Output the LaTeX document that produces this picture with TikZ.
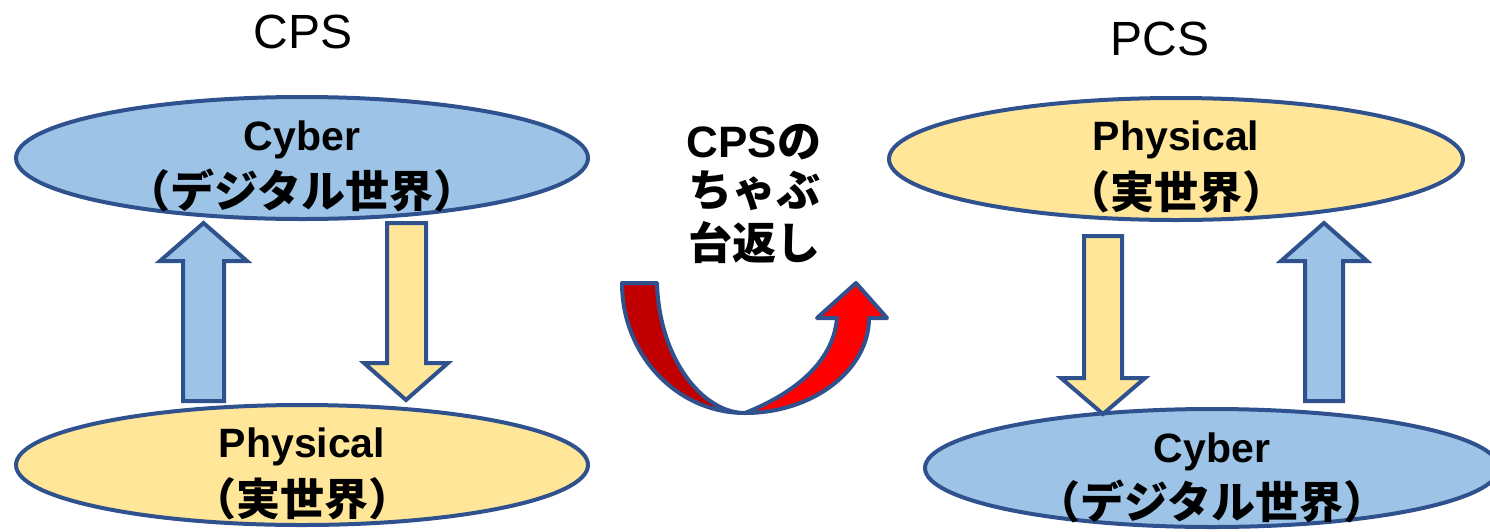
\documentclass[tikz,border=0pt]{standalone}
\usepackage{fontspec}
\setmainfont{Liberation Sans}
\newfontfamily\jp{Noto Sans CJK JP}
\usetikzlibrary{shapes.geometric}
\definecolor{edge}{HTML}{2F528F}
\definecolor{cyberfill}{HTML}{9DC3E6}
\definecolor{physfill}{HTML}{FFE699}
\definecolor{darkred}{HTML}{C00000}
\definecolor{brightred}{HTML}{FF0000}
\begin{document}
\begin{tikzpicture}[x=1pt,y=-1pt,
  world/.style={ellipse, draw=edge, line width=4pt, inner sep=0pt, minimum width=572pt, minimum height=122pt},
  cyber/.style={world, fill=cyberfill},
  phys/.style={world, fill=physfill},
  lbl/.style={anchor=base, inner sep=0pt, font=\bfseries\fontsize{41}{49}\selectfont},
  jlbl/.style={anchor=base, inner sep=0pt, font=\jp\bfseries\fontsize{44}{52}\selectfont},
  ttl/.style={anchor=base, inner sep=0pt, font=\fontsize{48}{56}\selectfont},
  mid/.style={anchor=base, inner sep=0pt, font=\bfseries\fontsize{44}{52}\selectfont},
  blk/.style={draw=edge, line width=4pt, line join=miter},
  turn/.style={draw=edge, line width=4pt, line join=round},
]
\useasboundingbox (0,0) rectangle (1490,531);

% worlds
\node[cyber] (cybL) at (302,158) {};
\node[phys, minimum height=120pt] (phyL) at (302,465) {};
\node[phys, minimum width=574pt] (phyR) at (1176,159) {};
\node[cyber, minimum width=574pt, minimum height=118pt] (cybR) at (1212,468) {};

% block arrows, left (CPS)
\draw[blk, fill=cyberfill] (183,401) -- (183,261) -- (160,261) -- (203.5,223) -- (247,261) -- (224,261) -- (224,401) -- cycle;
\draw[blk, fill=physfill] (387,223) -- (426,223) -- (426,363) -- (448,363) -- (406,400) -- (364,363) -- (387,363) -- cycle;
% block arrows, right (PCS)
\draw[blk, fill=physfill] (1084,236) -- (1122,236) -- (1122,378) -- (1145,378) -- (1103,414) -- (1061,378) -- (1084,378) -- cycle;
\draw[blk, fill=cyberfill] (1305,401) -- (1305,261) -- (1281,261) -- (1324,223) -- (1367,261) -- (1343,261) -- (1343,401) -- cycle;

% labels
\node[lbl] (cybLt) at (302,150) {Cyber};
\node[jlbl] (cybLj) at (302,207) {（デジタル世界）};
\node[lbl] (phyLt) at (302,457) {Physical};
\node[jlbl] (phyLj) at (302,515) {（実世界）};
\node[lbl] (phyRt) at (1176,150) {Physical};
\node[jlbl] (phyRj) at (1176,208) {（実世界）};
\node[lbl] (cybRt) at (1212,462) {Cyber};
\node[jlbl] (cybRj) at (1212,518) {（デジタル世界）};

% titles
\node[ttl] (cpsT) at (303,48) {CPS};
\node[ttl] (pcsT) at (1160,55) {PCS};

% middle text
\node[mid] (m1) at (754,157) {CPS{\jp の}};
\node[mid] (m2) at (754,206) {\jp ちゃぶ};
\node[mid] (m3) at (754,259) {\jp 台返し};

% U-turn arrow
\draw[turn, fill=darkred] (622,283) -- (657,283) .. controls (659,358) and (702,413) .. (745,413) .. controls (677,413) and (622,355) .. cycle;
\draw[turn, fill=brightred] (745,413) .. controls (813,413) and (869,370) .. (869,318) -- (887,318) -- (856,283) -- (817,318) -- (837,318) .. controls (833,365) and (790,395) .. cycle;
\end{tikzpicture}
\end{document}
